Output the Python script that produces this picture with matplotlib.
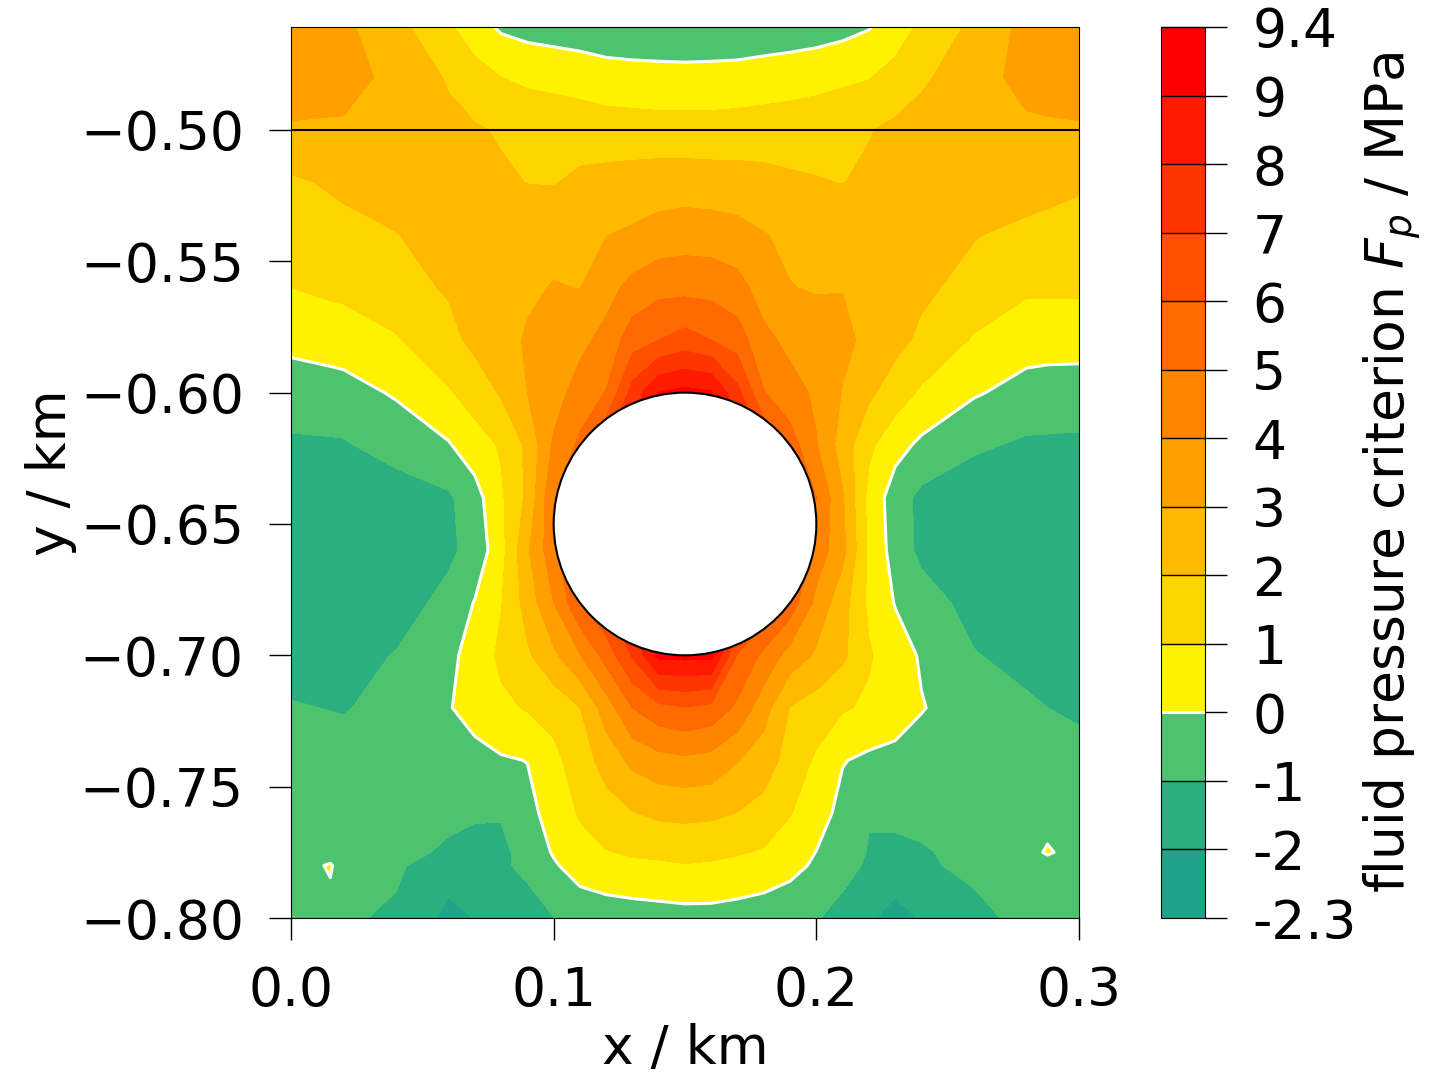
import matplotlib
matplotlib.use("Agg")
import matplotlib.pyplot as plt
from matplotlib.patches import Circle
import numpy as np

# grid, km / MPa
x_km = [0.0, 0.015, 0.02, 0.04, 0.06, 0.07, 0.08, 0.09, 0.10, 0.11, 0.12, 0.13, 0.14, 0.15,
        0.16, 0.17, 0.18, 0.19, 0.20, 0.21, 0.22, 0.23, 0.24, 0.26, 0.28, 0.288, 0.30]
y_km = [-0.46, -0.48, -0.50, -0.52, -0.54, -0.56, -0.58, -0.60, -0.62, -0.64, -0.66, -0.68,
        -0.70, -0.72, -0.74, -0.76, -0.775, -0.78, -0.80]
fp = [
    [3.6, 3.3, 3.2, 2.3, 1.1, .4, -.2, -.4, -.5, -.6, -.65, -.7, -.72, -.73, -.72, -.7, -.65, -.6, -.5, -.35, -.1, .45, 1.15, 2.2, 3.3, 3.45, 3.6],
    [3.7, 3.45, 3.4, 2.7, 1.9, 1.4, 1.0, .8, .7, .6, .4, .35, .32, .3, .32, .35, .45, .55, .65, .8, .95, 1.35, 1.85, 2.55, 3.35, 3.5, 3.7],
    [2.85, 2.85, 2.85, 2.55, 2.25, 2.1, 1.9, 1.75, 1.65, 1.55, 1.5, 1.45, 1.4, 1.4, 1.4, 1.45, 1.5, 1.55, 1.65, 1.8, 1.95, 2.2, 2.35, 2.6, 2.8, 2.82, 2.85],
    [1.85, 2.1, 2.2, 2.4, 2.4, 2.3, 2.15, 1.98, 1.95, 2.2, 2.3, 2.4, 2.5, 2.5, 2.45, 2.4, 2.3, 2.15, 2.05, 1.98, 2.15, 2.3, 2.4, 2.5, 2.45, 2.35, 2.15],
    [1.5, 1.65, 1.7, 1.97, 2.35, 2.45, 2.55, 2.6, 2.7, 2.85, 2.98, 3.15, 3.4, 3.55, 3.5, 3.35, 3.05, 2.8, 2.7, 2.65, 2.6, 2.5, 2.35, 2.05, 1.75, 1.65, 1.55],
    [1.0, 1.2, 1.25, 1.65, 2.1, 2.3, 2.55, 2.85, 3.05, 2.98, 3.65, 4.3, 4.7, 4.7, 4.65, 4.35, 3.55, 3.03, 2.92, 2.97, 2.8, 2.5, 2.2, 1.65, 1.15, 1.15, 1.15],
    [.25, .4, .45, .9, 1.7, 2.25, 2.65, 3.1, 3.3, 3.75, 4.3, 5.55, 6.0, 6.4, 6.0, 5.5, 4.25, 3.75, 3.5, 3.25, 2.75, 2.3, 1.8, .9, .4, .4, .45],
    [-.5, -.4, -.35, .1, .9, 1.45, 2.1, 3.0, 3.6, 4.4, 5.05, 7.4, 9, 9.3, 9.1, 7.3, 5.05, 4.35, 3.85, 2.95, 2.2, 1.5, .85, .1, -.35, -.45, -.55],
    [-1.15, -1.12, -1.1, -.6, -.08, .55, 1.1, 2.2, 4.15, 5.2, 7, 8, 9, 9.3, 9, 8, 7, 5.5, 4.05, 2.55, 1.2, .35, -.2, -.85, -1.15, -1.15, -1.15],
    [-1.6, -1.6, -1.6, -1.5, -1.15, -.4, .85, 2.2, 4.9, 6, 7, 8, 9, 9.3, 9, 8, 7, 6, 5, 3.1, .7, -.5, -1.25, -1.6, -1.6, -1.6, -1.6],
    [-1.6, -1.6, -1.6, -1.55, -1.2, -.65, .65, 2.85, 4.7, 6, 7, 8, 9, 9.3, 9, 8, 7, 6, 4.6, 3.3, .8, -.4, -1.25, -1.6, -1.6, -1.6, -1.6],
    [-1.6, -1.6, -1.6, -1.45, -.7, .05, .95, 2.4, 4, 5.9, 7, 8, 9, 9.3, 9, 8, 6.9, 5.6, 3.7, 2.4, .8, -.05, -.55, -1.35, -1.6, -1.6, -1.6],
    [-1.3, -1.33, -1.35, -.95, -.25, .4, 1.2, 1.85, 2.8, 3.95, 5.4, 7.1, 9.3, 9.3, 9.3, 5.9, 4.75, 3.6, 2.85, 2.2, 1.1, .45, -.1, -.95, -1.3, -1.45, -1.6],
    [-.95, -1.02, -1.05, -.75, -.05, .3, .8, 1.08, 1.35, 1.97, 3.5, 5.0, 5.7, 5.95, 5.7, 4.8, 3.4, 1.95, 1.55, 1.1, .85, .5, .05, -.5, -.85, -1.0, -1.15],
    [-.7, -.7, -.7, -.55, -.35, -.25, -.1, .02, .75, 1.5, 2.4, 3.25, 3.65, 3.8, 3.65, 3.05, 2.5, 1.6, .85, .05, -.2, -.3, -.4, -.5, -.6, -.65, -.7],
    [-.75, -.75, -.75, -.7, -.85, -.93, -.95, -.3, .4, 1.1, 1.6, 1.95, 2.2, 2.25, 2.2, 1.98, 1.65, 1.05, .45, -.3, -.95, -.9, -.85, -.7, -.75, -.75, -.75],
    [-.75, -.72, -.75, -.8, -1.1, -1.2, -1.15, -.75, .1, .65, .95, 1.1, 1.2, 1.3, 1.2, 1.1, .9, .5, -.02, -.6, -1.05, -1.1, -1.05, -.85, -.7, .2, -.75],
    [-.75, .15, -.75, -.85, -1.6, -1.3, -1.1, -.85, -.13, .5, .75, .85, .85, .95, .9, .7, .55, .3, -.15, -.75, -1.1, -1.6, -1.1, -.85, -.75, -.75, -.75],
    [-.75, -.5, -.87, -1.15, -2.25, -1.98, -1.65, -1.3, -1.02, -.75, -.6, -.5, -.4, -.35, -.35, -.4, -.5, -.7, -.95, -1.25, -1.9, -2.25, -1.95, -1.2, -.8, -.77, -.75],
]

levels = [-2.3, -2, -1, 0, 1, 2, 3, 4, 5, 6, 7, 8, 9, 9.4]
level_labels = ["-2.3", "-2", "-1", "0", "1", "2", "3", "4", "5", "6", "7", "8", "9", "9.4"]
band_colors = ["#21a38a", "#2bae80", "#4dc36f", "#fff200", "#ffd500", "#ffba00", "#ffa000",
               "#ff8500", "#ff6a00", "#ff5000", "#ff3500", "#ff1a00", "#ff0000"]

plt.rcParams["font.size"] = 38.5

fig = plt.figure(figsize=(14.47, 10.8), dpi=100)
ax = fig.add_axes([291 / 1447, 162 / 1080, 788 / 1447, 891 / 1080])
cax = fig.add_axes([1161 / 1447, 162 / 1080, 44 / 1447, 891 / 1080])

filled = ax.contourf(x_km, y_km, fp, levels=levels, colors=band_colors)
zero_line = ax.contour(x_km, y_km, fp, levels=[0], colors="white", linewidths=2.2)
ax.axhline(-0.5, color="black", linewidth=1.5)
ax.add_patch(Circle((0.15, -0.65), 0.05, facecolor="white", edgecolor="black", linewidth=1.5, zorder=5))

ax.set_xlim(0, 0.3)
ax.set_ylim(-0.8, -0.4608)
ax.set_xticks([0.0, 0.1, 0.2, 0.3])
ax.set_yticks([-0.80, -0.75, -0.70, -0.65, -0.60, -0.55, -0.50])
ax.set_yticklabels(["\u22120.80", "\u22120.75", "\u22120.70", "\u22120.65", "\u22120.60", "\u22120.55", "\u22120.50"])
ax.tick_params(length=16, width=1, pad=18)
ax.set_xlabel("x / km", labelpad=4)
ax.set_ylabel("y / km", labelpad=2)

cbar = fig.colorbar(filled, cax=cax, drawedges=True)
cbar.add_lines(zero_line)
cbar.set_ticks(levels)
cbar.set_ticklabels(level_labels)
cbar.ax.tick_params(length=16, width=1, pad=18)
cbar.dividers.set_linewidth(1)
cbar.set_label("fluid pressure criterion $F_p$ / MPa", labelpad=4)

fig.savefig("out.png", dpi=100)
plt.close(fig)
